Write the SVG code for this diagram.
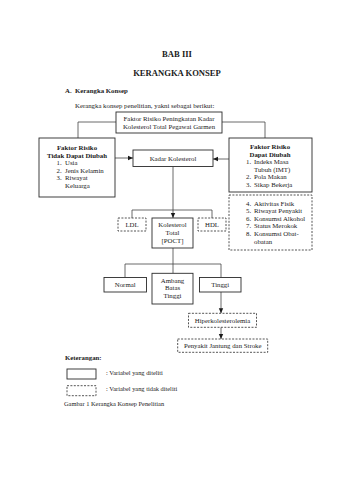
<svg xmlns="http://www.w3.org/2000/svg" width="339" height="480" viewBox="0 0 339 480">
<style>
text{font-family:"Liberation Serif","Times New Roman",serif;fill:#1a1a1a;font-size:6.8px}
.b{font-weight:bold}
.m{text-anchor:middle}
.h{font-size:8.6px;font-weight:bold;text-anchor:middle}
.s{font-size:6.4px}
.box{fill:#fff;stroke:#2a2a2a;stroke-width:0.9}
.dash{fill:#fff;stroke:#2a2a2a;stroke-width:0.8;stroke-dasharray:2 1.4}
.c{fill:none;stroke:#444;stroke-width:0.8}
</style>
<defs>
<marker id="ah" markerWidth="6" markerHeight="6" refX="5" refY="3" orient="auto" markerUnits="userSpaceOnUse">
<path d="M0,0.8 L5,3 L0,5.2 Z" fill="#1a1a1a"/>
</marker>
</defs>
<rect width="339" height="480" fill="#fff"/>
<g id="heading">
<text class="h" x="177" y="56.5">BAB III</text>
<text class="h" x="177" y="75.5">KERANGKA KONSEP</text>
<text class="b" x="65" y="93">A.</text>
<text class="b" x="75" y="93">Kerangka Konsep</text>
<text x="75" y="108">Kerangka konsep penelitian, yakni sebagai berikut:</text>
</g>
<g id="connectors">
<polyline class="c" points="116,122 78,122 78,138"/>
<polyline class="c" points="222,122 265,122 265,138"/>
<line class="c" x1="115" y1="158" x2="133" y2="158" marker-end="url(#ah)"/>
<line class="c" x1="229" y1="159" x2="213" y2="159" marker-end="url(#ah)"/>
<line class="c" x1="173" y1="166.5" x2="173" y2="218" marker-end="url(#ah)"/>
<polyline class="c" points="132,218 132,210 212,210 212,218"/>
<line class="c" x1="173" y1="248" x2="173" y2="273.3"/>
<polyline class="c" points="125,277.5 125,264 221,264 221,277.5"/>
<line class="c" x1="221" y1="292" x2="221" y2="313.3" marker-end="url(#ah)"/>
<line class="c" x1="221" y1="327.3" x2="221" y2="339" marker-end="url(#ah)"/>
</g>
<g id="top">
<rect class="box" x="116" y="112" width="106" height="21"/>
<text class="m" x="169" y="121">Faktor Risiko  Peningkatan Kadar</text>
<text class="m" x="169" y="129">Kolesterol Total Pegawai Garmen</text>
</g>
<g id="tidak-dapat-diubah">
<rect class="box" x="39" y="138" width="76" height="59"/>
<text class="b m" x="77" y="150">Faktor Risiko</text>
<text class="b m" x="77" y="157.6">Tidak Dapat Diubah</text>
<text x="56.5" y="165.2">1.</text><text x="65" y="165.2">Usia</text>
<text x="56.5" y="172.8">2.</text><text x="65" y="172.8">Jenis Kelamin</text>
<text x="56.5" y="180.4">3.</text><text x="65" y="180.4">Riwayat</text>
<text x="65" y="188">Keluarga</text>
</g>
<g id="kadar">
<rect class="box" x="133" y="150" width="80" height="16.5"/>
<text class="m" x="173" y="160.5">Kadar Kolesterol</text>
</g>
<g id="dapat-diubah">
<rect class="box" x="229" y="138" width="83" height="54"/>
<text class="b m" x="270" y="149">Faktor Risiko</text>
<text class="b m" x="270" y="157">Dapat Diubah</text>
<text x="246" y="164">1.</text><text x="254" y="164">Indeks Masa</text>
<text x="254" y="171.8">Tubuh (IMT)</text>
<text x="246" y="179.4">2.</text><text x="254" y="179.4">Pola Makan</text>
<text x="246" y="187.2">3.</text><text x="254" y="187.2">Sikap Bekerja</text>
</g>
<g id="lainnya">
<rect class="dash" x="229" y="195" width="83" height="55"/>
<text x="246" y="205.6">4.</text><text x="254" y="205.6">Aktivitas Fisik</text>
<text x="246" y="213.2">5.</text><text x="254" y="213.2">Riwayat Penyakit</text>
<text x="246" y="220.8">6.</text><text x="254" y="220.8">Konsumsi Alkohol</text>
<text x="246" y="228.4">7.</text><text x="254" y="228.4">Status Merokok</text>
<text x="246" y="236">8.</text><text x="254" y="236">Konsumsi Obat-</text>
<text x="254" y="243.6">obatan</text>
</g>
<g id="ldl">
<rect class="dash" x="118" y="218" width="28" height="13"/>
<text class="m" x="132" y="227">LDL</text>
</g>
<g id="poct">
<rect class="box" x="152" y="218" width="41" height="30"/>
<text class="m" x="172.5" y="226.5">Kolesterol</text>
<text class="m" x="172.5" y="234.6">Total</text>
<text class="m" x="172.5" y="242.8">[POCT]</text>
</g>
<g id="hdl">
<rect class="dash" x="198" y="218" width="28" height="13"/>
<text class="m" x="212" y="227">HDL</text>
</g>
<g id="normal">
<rect class="box" x="104" y="277.5" width="42.5" height="14.5"/>
<text class="m" x="125.2" y="287.2">Normal</text>
</g>
<g id="ambang">
<rect class="box" x="152" y="273.3" width="41" height="30.7"/>
<text class="m" x="172.5" y="282.6">Ambang</text>
<text class="m" x="172.5" y="290.4">Batas</text>
<text class="m" x="172.5" y="298.2">Tinggi</text>
</g>
<g id="tinggi">
<rect class="box" x="199.5" y="277.5" width="41.5" height="14.5"/>
<text class="m" x="220.2" y="287.2">Tinggi</text>
</g>
<g id="hiper">
<rect class="dash" x="188.5" y="313.3" width="68" height="14"/>
<text class="m" x="222.5" y="322.6">Hiperkolesterolemia</text>
</g>
<g id="penyakit">
<rect class="dash" x="177.7" y="339" width="90" height="13.3"/>
<text class="m" x="222.7" y="348">Penyakit Jantung dan Stroke</text>
</g>
<g id="legend">
<text class="b" x="65" y="359.8">Keterangan:</text>
<rect class="box" x="67" y="369" width="29" height="10"/>
<text class="s" x="106" y="375">: Variabel yang diteliti</text>
<rect class="dash" x="67" y="385.7" width="29" height="10"/>
<text class="s" x="106" y="390.6">: Variabel yang tidak diteliti</text>
<text class="s" x="64" y="406.2">Gambar 1 Kerangka Konsep Penelitian</text>
</g>
</svg>
